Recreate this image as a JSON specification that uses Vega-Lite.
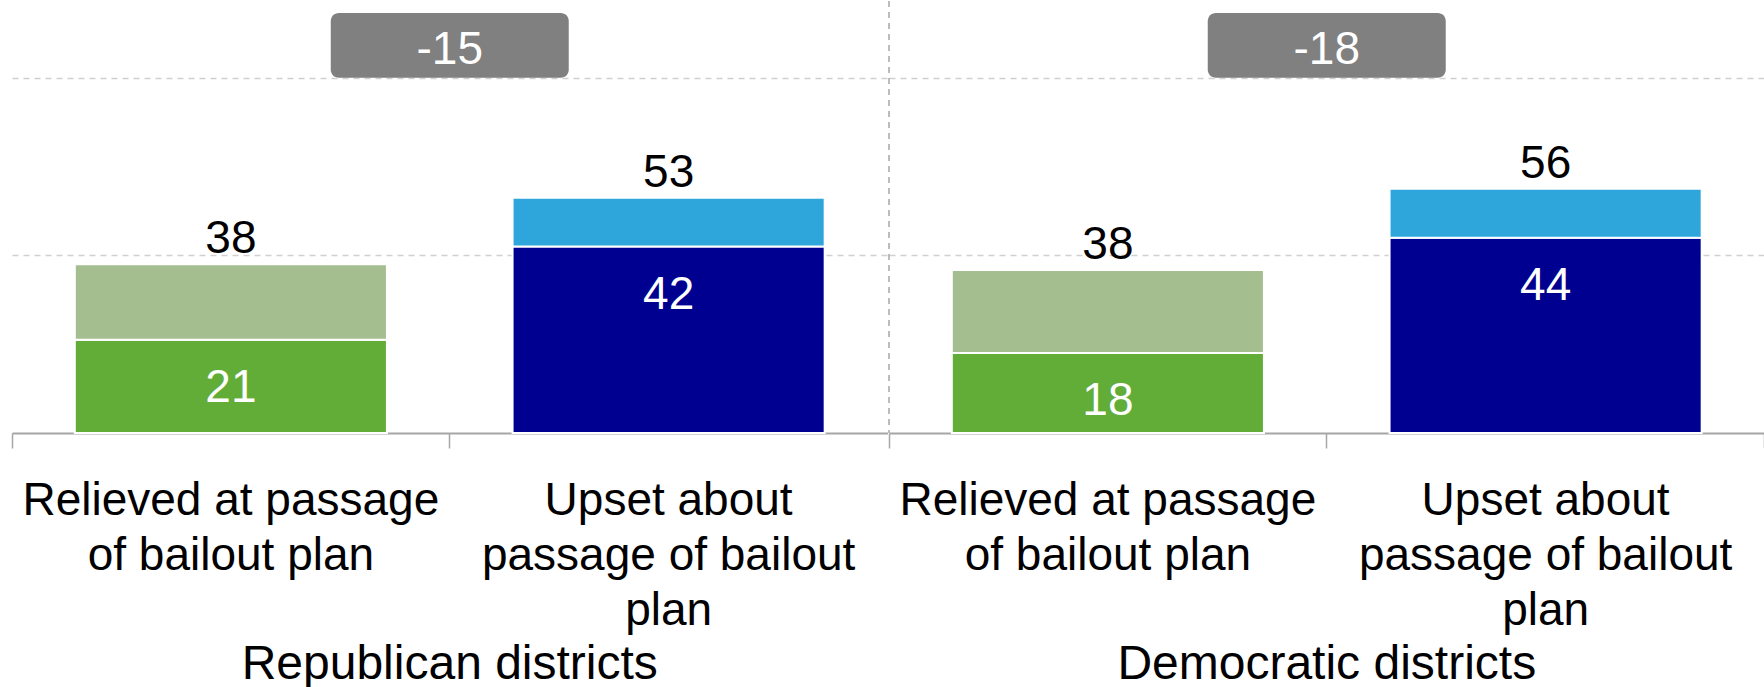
{
  "$schema": "https://vega.github.io/schema/vega-lite/v6.json",
  "padding": {"left": 11, "top": 0, "right": 0, "bottom": 0},
  "background": "white",
  "config": {
    "view": {"stroke": null},
    "font": "Liberation Sans",
    "text": {"font": "Liberation Sans"},
    "header": {"labelOrient": "bottom", "labelFontSize": 48, "labelFont": "Liberation Sans", "labelColor": "black", "labelBaseline": "alphabetic", "labelPadding": 46}
  },
  "data": {"values": [
    {"group": "Republican districts", "category": "Relieved at passage of bailout plan", "tier": 1, "segment": "Relieved base", "value": 21, "label": "21", "gap": "-15"},
    {"group": "Republican districts", "category": "Relieved at passage of bailout plan", "tier": 2, "segment": "Relieved added", "value": 17, "label": "38", "gap": "-15"},
    {"group": "Republican districts", "category": "Upset about passage of bailout plan", "tier": 1, "segment": "Upset base", "value": 42, "label": "42", "gap": "-15"},
    {"group": "Republican districts", "category": "Upset about passage of bailout plan", "tier": 2, "segment": "Upset added", "value": 11, "label": "53", "gap": "-15"},
    {"group": "Democratic districts", "category": "Relieved at passage of bailout plan", "tier": 1, "segment": "Relieved base", "value": 18, "label": "18", "gap": "-18"},
    {"group": "Democratic districts", "category": "Relieved at passage of bailout plan", "tier": 2, "segment": "Relieved added", "value": 18.7, "label": "38", "gap": "-18"},
    {"group": "Democratic districts", "category": "Upset about passage of bailout plan", "tier": 1, "segment": "Upset base", "value": 44, "label": "44", "gap": "-18"},
    {"group": "Democratic districts", "category": "Upset about passage of bailout plan", "tier": 2, "segment": "Upset added", "value": 11, "label": "56", "gap": "-18"}
  ]},
  "facet": {"column": {"field": "group", "type": "nominal", "sort": ["Republican districts", "Democratic districts"], "title": null}},
  "spacing": 0,
  "resolve": {"scale": {"x": "independent"}, "axis": {"x": "independent"}},
  "spec": {
    "width": 875.5,
    "height": 432,
    "resolve": {"scale": {"x": "independent"}, "axis": {"x": "independent"}},
    "layer": [
      {
        "mark": {"type": "bar", "width": {"band": 0.713}, "stroke": "white", "strokeWidth": 2},
        "encoding": {
          "x": {"field": "category", "type": "nominal", "sort": ["Relieved at passage of bailout plan", "Upset about passage of bailout plan"],
            "scale": {"paddingInner": 0, "paddingOuter": 0},
            "axis": {"title": null, "labelAngle": 0, "labelFontSize": 46, "labelFont": "Liberation Sans", "labelColor": "black", "labelLineHeight": 55, "labelBaseline": "alphabetic", "labelPadding": 66, "labelLimit": 1000, "labelOverlap": false, "labelBound": false,
              "bandPosition": 0,
              "tickSize": 15, "tickColor": "#a6a6a6", "tickWidth": 1.5, "domainColor": "#a6a6a6", "domainWidth": 2,
              "labelExpr": "datum.label == 'Relieved at passage of bailout plan' ? ['Relieved at passage', 'of bailout plan'] : ['Upset about', 'passage of bailout', 'plan']"}},
          "y": {"field": "value", "type": "quantitative", "stack": "zero",
            "scale": {"domain": [0, 97.3], "nice": false, "zero": true},
            "axis": {"title": null, "labels": false, "ticks": false, "domain": false, "grid": true, "values": [40, 80], "gridDash": [6, 5], "gridColor": "#d0d0d0", "gridWidth": 1.5, "minExtent": 0, "maxExtent": 0}},
          "color": {"field": "segment", "type": "nominal", "legend": null,
            "scale": {"domain": ["Relieved base", "Relieved added", "Upset base", "Upset added"], "range": ["#62ad38", "#a4be90", "#000090", "#2ea6dc"]}},
          "order": {"field": "tier", "type": "quantitative"}
        }
      },
      {
        "transform": [{"filter": "datum.tier == 1"}],
        "mark": {"type": "text", "baseline": "alphabetic", "dy": 62, "fontSize": 46, "color": "white"},
        "encoding": {
          "x": {"field": "category", "type": "nominal", "sort": ["Relieved at passage of bailout plan", "Upset about passage of bailout plan"], "scale": {"paddingInner": 0, "paddingOuter": 0}, "axis": null},
          "y": {"field": "value", "type": "quantitative", "stack": null, "scale": {"domain": [0, 97.3], "nice": false}},
          "text": {"field": "label"}
        }
      },
      {
        "transform": [
          {"joinaggregate": [{"op": "sum", "field": "value", "as": "total"}], "groupby": ["group", "category"]},
          {"filter": "datum.tier == 2"}
        ],
        "mark": {"type": "text", "baseline": "alphabetic", "dy": -11, "fontSize": 46, "color": "black"},
        "encoding": {
          "x": {"field": "category", "type": "nominal", "sort": ["Relieved at passage of bailout plan", "Upset about passage of bailout plan"], "scale": {"paddingInner": 0, "paddingOuter": 0}, "axis": null},
          "y": {"field": "total", "type": "quantitative", "stack": null, "scale": {"domain": [0, 97.3], "nice": false}},
          "text": {"field": "label"}
        }
      },
      {
        "transform": [{"filter": "datum.tier == 1 && datum.category == 'Relieved at passage of bailout plan'"}],
        "mark": {"type": "bar", "width": 238, "cornerRadius": 8, "color": "#808080"},
        "encoding": {
          "x": {"field": "group", "type": "nominal", "scale": {"paddingInner": 0, "paddingOuter": 0}, "axis": null},
          "y": {"datum": 80, "type": "quantitative", "scale": {"domain": [0, 97.3], "nice": false}},
          "y2": {"datum": 94.6}
        }
      },
      {
        "transform": [{"filter": "datum.tier == 1 && datum.category == 'Relieved at passage of bailout plan'"}],
        "mark": {"type": "text", "baseline": "alphabetic", "dy": -14, "fontSize": 46, "color": "white"},
        "encoding": {
          "x": {"field": "group", "type": "nominal", "scale": {"paddingInner": 0, "paddingOuter": 0}, "axis": null},
          "y": {"datum": 80, "type": "quantitative", "scale": {"domain": [0, 97.3], "nice": false}},
          "text": {"field": "gap"}
        }
      },
      {
        "transform": [{"filter": "datum.tier == 1 && datum.category == 'Relieved at passage of bailout plan' && datum.group == 'Democratic districts'"}],
        "mark": {"type": "rule", "strokeDash": [6, 5], "color": "#a6a6a6", "strokeWidth": 1.5},
        "encoding": {
          "x": {"field": "group", "type": "nominal", "bandPosition": 0, "scale": {"paddingInner": 0, "paddingOuter": 0}, "axis": null}
        }
      },
      {
        "transform": [{"filter": "datum.tier == 1 && datum.category == 'Relieved at passage of bailout plan' && datum.group == 'Democratic districts'"}],
        "mark": {"type": "rule", "color": "#a6a6a6", "strokeWidth": 1.5},
        "encoding": {
          "x": {"field": "group", "type": "nominal", "bandPosition": 1, "scale": {"paddingInner": 0, "paddingOuter": 0}, "axis": null},
          "y": {"datum": 0, "type": "quantitative", "scale": {"domain": [0, 97.3], "nice": false}},
          "y2": {"datum": -3.4}
        }
      }
    ]
  }
}
